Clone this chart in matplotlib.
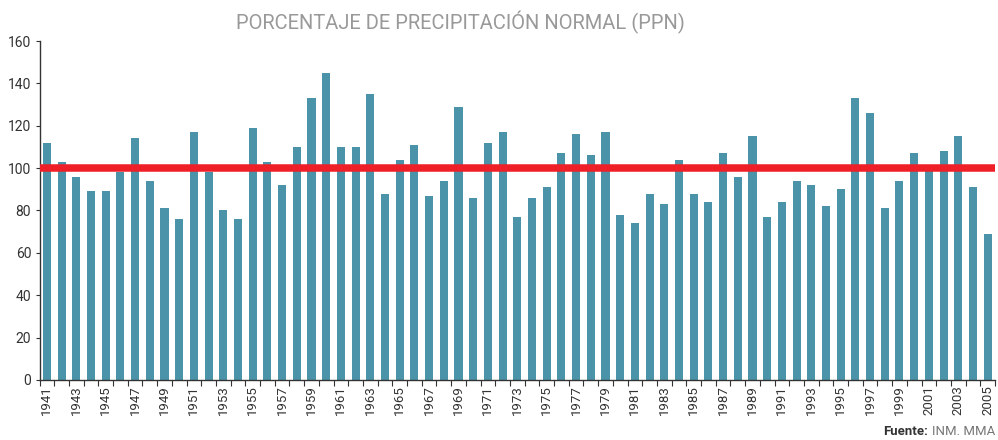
import matplotlib
matplotlib.use("Agg")
import matplotlib.pyplot as plt
import numpy as np

years = list(range(1941, 2006))
values = [112, 103, 96, 89, 89, 98, 114, 94, 81, 76,
          117, 98, 80, 76, 119, 103, 92, 110, 133, 145,
          110, 110, 135, 88, 104, 111, 87, 94, 129, 86,
          112, 117, 77, 86, 91, 107, 116, 106, 117, 78,
          74, 88, 83, 104, 88, 84, 107, 96, 115, 77,
          84, 94, 92, 82, 90, 133, 126, 81, 94, 107,
          99, 108, 115, 91, 69]
normal = 100
yticks = [0, 20, 40, 60, 80, 100, 120, 140, 160]
title = "PORCENTAJE DE PRECIPITACIÓN NORMAL (PPN)"

plt.rcParams['font.family'] = ['Roboto', 'DejaVu Sans']

fig = plt.figure(figsize=(9.98, 4.4), dpi=100)
ax = fig.add_axes([0.0396, 0.1364, 0.9574, 0.7704])

x = np.arange(len(years))
ax.bar(x, values, width=0.55, color="#4a93a8", zorder=2)
ax.axhline(normal, color="#ee1f26", linewidth=5.4, zorder=3)

ax.set_xlim(-0.5, len(years) - 0.5)
ax.set_ylim(0, 160)
ax.set_yticks(yticks)
ax.set_yticklabels([str(v) for v in yticks], fontsize=10, color="#333333")
ax.tick_params(axis='y', length=3, width=0.8, color="#333333", pad=3)

ax.set_xticks(x[::2])
ax.set_xticklabels([str(y) for y in years[::2]], rotation=90, fontsize=9.5, color="#333333")
ax.tick_params(axis='x', which='major', length=0, pad=4)
ax.set_xticks(np.arange(-0.5, len(years), 1), minor=True)
ax.tick_params(axis='x', which='minor', length=4, width=0.8, color="#333333")

for s in ['top', 'right']:
    ax.spines[s].set_visible(False)
for s in ['left', 'bottom']:
    ax.spines[s].set_color("#333333")
    ax.spines[s].set_linewidth(1.0)

fig.text(0.461, 0.949, title, ha='center', va='center', fontsize=14.5, color="#999999")

t1 = fig.text(0.997, 0.012, "INM. MMA", ha='right', va='baseline', fontsize=9.5, color="#777777")
fig.canvas.draw()
bb = t1.get_window_extent()
fig.text(bb.x0 / fig.bbox.width - 0.004, 0.012, "Fuente:", ha='right', va='baseline',
         fontsize=9.5, color="#333333", fontweight='bold')

fig.savefig("out.png", dpi=100)
